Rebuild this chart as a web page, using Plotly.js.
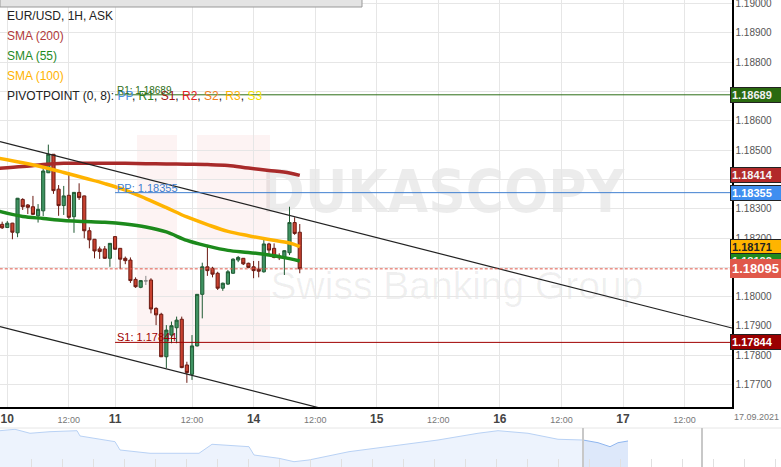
<!DOCTYPE html>
<html><head><meta charset="utf-8">
<script src="https://cdn.plot.ly/plotly-3.0.1.min.js"></script>
<style>html,body{margin:0;padding:0;background:#fff;}#chart{width:781px;height:467px;}</style>
</head><body><div id="chart"></div>
<script>
// ---------- DATA ----------
const hours = [-1,0,1,2,3,4,5,6,7,8,9,10,11,12,13,14,15,16,17,18,19,20,21,22,23,24,25,26,28,29,30,31,32,33,34,35,36,37,38,39,40,41,42,43,44,45,46,47,48,49,50,51,52,53,54,55,56,57];
const open  = [1.18247,1.18236,1.18251,1.18218,1.18332,1.18313,1.18307,1.18276,1.18293,1.18423,1.18486,1.18367,1.18311,1.18346,1.18273,1.18356,1.18344,1.18225,1.18196,1.18163,1.18163,1.18131,1.18205,1.18165,1.18131,1.18125,1.18059,1.18032,1.18057,1.17960,1.17940,1.17795,1.17869,1.17894,1.17923,1.17767,1.17735,1.17832,1.18008,1.18102,1.18097,1.18080,1.18029,1.18043,1.18080,1.18125,1.18131,1.18114,1.18102,1.18094,1.18085,1.18180,1.18165,1.18139,1.18134,1.18150,1.18253,1.18220];
const high  = [1.18256,1.18258,1.18252,1.18337,1.18336,1.18316,1.18344,1.18316,1.18442,1.18519,1.18487,1.18381,1.18378,1.18425,1.18357,1.18387,1.18345,1.18237,1.18197,1.18171,1.18173,1.18183,1.18207,1.18166,1.18137,1.18134,1.18066,1.18057,1.18063,1.17964,1.17945,1.17903,1.17915,1.17932,1.17932,1.17778,1.17869,1.18009,1.18116,1.18176,1.18102,1.18085,1.18048,1.18091,1.18131,1.18139,1.18132,1.18116,1.18122,1.18122,1.18196,1.18184,1.18182,1.18148,1.18159,1.18307,1.18271,1.18248];
const low   = [1.18231,1.18235,1.18196,1.18203,1.18296,1.18282,1.18279,1.18253,1.18275,1.18422,1.18351,1.18276,1.18279,1.18264,1.18218,1.18330,1.18199,1.18165,1.18131,1.18129,1.18129,1.18102,1.18160,1.18094,1.18111,1.18047,1.18030,1.18029,1.17943,1.17903,1.17794,1.17756,1.17841,1.17841,1.17756,1.17706,1.17716,1.17830,1.17926,1.18071,1.18066,1.18023,1.18020,1.18040,1.18078,1.18118,1.18108,1.18097,1.18063,1.18066,1.18082,1.18142,1.18131,1.18125,1.18074,1.18142,1.18211,1.18080];
const close = [1.18235,1.18251,1.18220,1.18336,1.18307,1.18305,1.18281,1.18298,1.18429,1.18486,1.18362,1.18311,1.18344,1.18271,1.18356,1.18338,1.18225,1.18194,1.18156,1.18154,1.18131,1.18182,1.18162,1.18128,1.18123,1.18055,1.18034,1.18055,1.17958,1.17938,1.17795,1.17886,1.17901,1.17920,1.17758,1.17741,1.17832,1.18008,1.18102,1.18089,1.18077,1.18029,1.18046,1.18085,1.18128,1.18134,1.18112,1.18100,1.18089,1.18087,1.18180,1.18159,1.18134,1.18133,1.18157,1.18253,1.18216,1.18095];
// doji (open = close), drawn grey
const dojiHours = [27];
const dojiOpen = [1.18054], dojiHigh = [1.18071], dojiLow = [1.18040], dojiClose = [1.18054];

// moving averages, read at sample hours
const maHours = [-1.5,3,7,11,15,19,23,27,31,35,39,43,47,51,55,57];
const sma200 = [1.18438,1.18444,1.18451,1.18455,1.18455,1.18455,1.18455,1.18454,1.18453,1.18452,1.18451,1.18448,1.18439,1.18431,1.18422,1.18414];
const sma100 = [1.18472,1.18457,1.18442,1.18424,1.18405,1.18386,1.18364,1.18335,1.18304,1.18272,1.18246,1.18223,1.18208,1.18195,1.18183,1.18171];
const sma55  = [1.18291,1.18274,1.18267,1.18260,1.18257,1.18254,1.18248,1.18238,1.18221,1.18192,1.18173,1.18158,1.18151,1.18142,1.18130,1.18122];

// trend channel (two points per line)
const channelHours = [-1.42, 141.24];
const channelUpper = [1.18529, 1.17893];
const channelLower = [1.17898, 1.17262];

// pivot points (from start of week)
const pivotNames  = ['R1','PP','S1'];
const pivotValues = [1.18689,1.18355,1.17844];
const pivotStart  = 21;

// x axis ticks
const tickHours = [0,12,21,36,48,60,72,84,96,108,120,132];
const tickLabels = ['10','12:00','11','12:00','14','12:00','15','12:00','16','12:00','17','12:00'];
const dateLabel = '17.09.2021';

// navigator overview series
const navX  = [0,15,30,50,77,80,115,120,150,170,199,212,249,254,279,294,309,349,399,438,478,498,528,558,583];
const navY  = [1.18743,1.18790,1.18657,1.18710,1.18743,1.18567,1.18377,1.18100,1.17990,1.17990,1.17990,1.18290,1.18210,1.17933,1.17823,1.17710,1.17767,1.18043,1.18267,1.18433,1.18657,1.18743,1.18657,1.18457,1.18433];
const navX2 = [583,598,610,618,628];
const navY2 = [1.18433,1.18343,1.18210,1.18343,1.18400];

// ---------- STYLE ----------
const FONT = 'Arial, "Liberation Sans", sans-serif';
const W = 781, H = 467;
const px = x => x / W, py = y => 1 - y / H;
const PLOT_R = 732, PLOT_B = 407;
const C = {sma200:'#a82a2a', sma55:'#1c8a1c', sma100:'#ffb300', R1:'#2d6e16', PP:'#3f7fd0', S1:'#a00000', last:'#e0584a'};

const xMin = -1.42, xMax = 141.24;
const traces = [];
traces.push({type:'candlestick', x:hours, open, high, low, close, xaxis:'x', yaxis:'y',
  increasing:{line:{color:'#1f5a33', width:1}, fillcolor:'#3f9362'},
  decreasing:{line:{color:'#6b1a12', width:1}, fillcolor:'#c8412f'},
  whiskerwidth:0, hoverinfo:'skip'});
traces.push({type:'candlestick', x:dojiHours, open:dojiOpen, high:dojiHigh, low:dojiLow, close:dojiClose,
  increasing:{line:{color:'#888', width:1}, fillcolor:'#888'},
  decreasing:{line:{color:'#888', width:1}, fillcolor:'#888'}, hoverinfo:'skip'});
traces.push({type:'scatter', mode:'lines', x:maHours, y:sma200, line:{color:C.sma200, width:3.5, shape:'spline'}, hoverinfo:'skip'});
traces.push({type:'scatter', mode:'lines', x:maHours, y:sma100, line:{color:C.sma100, width:3.5, shape:'spline'}, hoverinfo:'skip'});
traces.push({type:'scatter', mode:'lines', x:maHours, y:sma55,  line:{color:C.sma55,  width:3.5, shape:'spline'}, hoverinfo:'skip'});
traces.push({type:'scatter', mode:'lines', x:channelHours, y:channelUpper, line:{color:'#222', width:1.2}, hoverinfo:'skip'});
traces.push({type:'scatter', mode:'lines', x:channelHours, y:channelLower, line:{color:'#222', width:1.2}, hoverinfo:'skip'});
pivotNames.forEach((n,i)=>{
  traces.push({type:'scatter', mode:'lines', x:[pivotStart, xMax+2], y:[pivotValues[i],pivotValues[i]],
    line:{color:C[n], width:1}, hoverinfo:'skip'});
});
const lastPrice = close[close.length-1];
traces.push({type:'scatter', mode:'lines', x:[xMin-2, xMax+2], y:[lastPrice,lastPrice], line:{color:C.last, width:1, dash:'3px,2px'}, hoverinfo:'skip'});
// navigator
traces.push({type:'scatter', mode:'lines', x:navX, y:navY, xaxis:'x2', yaxis:'y2', fill:'tozeroy', fillcolor:'#edf3fd', line:{color:'#b9d2f5', width:1}, hoverinfo:'skip'});
traces.push({type:'scatter', mode:'lines', x:navX2, y:navY2, xaxis:'x2', yaxis:'y2', fill:'tozeroy', fillcolor:'#dde8fa', line:{color:'#8fb6ef', width:1}, hoverinfo:'skip'});

const ann = [];
// legend texts
const legend = [
  ['EUR/USD, 1H, ASK','#222'],
  ['SMA (200)', '#b03a3a'],
  ['SMA (55)', '#1f8a1f'],
  ['SMA (100)', '#ffb300']
];
const legendY = [15.7, 35.7, 55.7, 76];
legend.forEach((l,i)=>ann.push({xref:'paper', yref:'paper', x:px(5), y:py(legendY[i]), xanchor:'left', yanchor:'middle',
  text:l[0], showarrow:false, font:{family:FONT, size:12, color:l[1]}}));
const pivLegendColors = {PP:'#4a90e2', R1:'#2e7d1e', S1:'#a01010', R2:'#e02020', S2:'#f08020', R3:'#ffb300', S3:'#f2e200'};
const pivText = 'PIVOTPOINT (0, 8): ' + Object.keys(pivLegendColors).map(k=>`<span style="color:${pivLegendColors[k]}">${k}</span>`).join(', ');
ann.push({xref:'paper', yref:'paper', x:px(5), y:py(96), xanchor:'left', yanchor:'middle', text:pivText, showarrow:false, font:{family:FONT, size:12, color:'#222'}});
// pivot line labels
pivotNames.forEach((n,i)=>ann.push({xref:'x', yref:'y', x:pivotStart, y:pivotValues[i], xanchor:'left', yanchor:'bottom', yshift:-3,
  text:`${n}: ${pivotValues[i].toFixed(5)}`, showarrow:false, font:{family:FONT, size:n==='R1'?10:11, color:C[n]}}));
// right-side price tags
const tags = [
  [pivotValues[0], '#2a6a10', '#f0f0f0', 11],
  [sma200[sma200.length-1], '#b22a2a', '#f5f5f5', 11],
  [pivotValues[1], '#3f8ef0', '#ffffff', 11],
  [sma100[sma100.length-1], '#ffb400', '#222', 11],
  [sma55[sma55.length-1], '#1e8a1e', '#f0f0f0', 11],
  [lastPrice, '#e0584a', '#ffffff', 13],
  [pivotValues[2], '#9a0000', '#ffffff', 11]
];
tags.forEach(t=>ann.push({xref:'paper', yref:'y', x:px(730), y:t[0], xanchor:'left', yanchor:'middle',
  text:`<b>${t[0].toFixed(5)}</b>`, showarrow:false, bgcolor:t[1], bordercolor:t[3]===13?t[1]:'#222', borderwidth:1, borderpad:1,
  width: 50, align:'left', font:{family:FONT, size:t[3], color:t[2]}}));
ann.push({xref:'paper', yref:'paper', x:px(756), y:py(417), xanchor:'center', yanchor:'middle', text:dateLabel, showarrow:false, font:{family:FONT, size:9, color:'#777'}});

const shapes = [
  // watermark logo blocks
  {type:'rect', xref:'paper', yref:'paper', x0:px(137), x1:px(270), y0:py(135), y1:py(350), fillcolor:'rgba(230,80,80,0.07)', line:{width:0}, layer:'below'},
  {type:'rect', xref:'paper', yref:'paper', x0:px(177), x1:px(197), y0:py(135), y1:py(290), fillcolor:'rgba(255,255,255,1)', line:{width:0}, layer:'below'},
  {type:'rect', xref:'paper', yref:'paper', x0:px(197), x1:px(270), y0:py(240), y1:py(290), fillcolor:'rgba(255,255,255,1)', line:{width:0}, layer:'below'},
  {type:'rect', xref:'paper', yref:'paper', x0:px(268), x1:px(618), y0:py(135), y1:py(240), line:{width:0}, layer:'below',
    label:{text:'<b>DUKASCOPY</b>', font:{family:'"DejaVu Sans Condensed", "Liberation Sans Narrow", Arial', size:58, color:'rgba(0,0,0,0.075)'}, textposition:'middle center'}},
  {type:'rect', xref:'paper', yref:'paper', x0:px(272), x1:px(642), y0:py(240), y1:py(322), line:{width:0}, layer:'below',
    label:{text:'Swiss Banking Group', font:{family:'"Liberation Sans Narrow", Arial', size:39, color:'rgba(0,0,0,0.06)'}, textposition:'middle center'}},
  // top grey bar
  {type:'rect', xref:'paper', yref:'paper', x0:px(0), x1:px(362), y0:py(-2), y1:py(7), fillcolor:'#e4e4e4', line:{color:'#999', width:1}},
  // navigator top border and handles
  {type:'line', xref:'paper', yref:'paper', x0:0, x1:1, y0:py(428), y1:py(428), line:{color:'#e6e6e6', width:1}},
  {type:'line', xref:'x2', yref:'paper', x0:583, x1:583, y0:py(428), y1:0, line:{color:'#c8c8c8', width:2}},
  {type:'line', xref:'x2', yref:'paper', x0:702, x1:702, y0:py(428), y1:0, line:{color:'#c8c8c8', width:2}}
];

const layout = {
  width:W, height:H, margin:{l:0,r:0,t:0,b:0}, paper_bgcolor:'#fff', plot_bgcolor:'#fff',
  showlegend:false, boxgap:0.12, font:{family:FONT},
  xaxis:{domain:[0, px(PLOT_R)], range:[xMin,xMax], tickmode:'array', tickvals:tickHours,
    ticktext:tickLabels.map(t=>t.includes(':')?`<span style="font-size:9px;color:#777">${t}</span>`:`<b>${t}</b>`),
    showgrid:true, gridcolor:'#e6e6e6', gridwidth:1, zeroline:false, showline:true, linecolor:'#000', linewidth:1.5,
    ticks:'', tickfont:{family:FONT, size:12, color:'#444'}, rangeslider:{visible:false}, fixedrange:true, anchor:'y'},
  yaxis:{domain:[1-PLOT_B/H, 1], range:[1.176235,1.190126], side:'right', tick0:1.177, dtick:0.001, tickformat:'.5f',
    showgrid:true, gridcolor:'#e6e6e6', gridwidth:1, zeroline:false, showline:true, linecolor:'#000', linewidth:1.5,
    ticks:'', tickfont:{family:FONT, size:10, color:'#555'}, ticklabeloverflow:'allow', fixedrange:true, anchor:'x'},
  xaxis2:{domain:[0,1], range:[0,W], anchor:'y2', showgrid:false, zeroline:false, showticklabels:false, showline:false,
    ticks:'inside', ticklen:8, tickcolor:'#e0e0e0', tick0:31, dtick:31},
  yaxis2:{domain:[0, 1-428/H], range:[1.17533,1.18833], anchor:'x2', visible:false},
  annotations:ann, shapes:shapes
};
Plotly.newPlot('chart', traces, layout, {staticPlot:true, displayModeBar:false});
</script></body></html>
